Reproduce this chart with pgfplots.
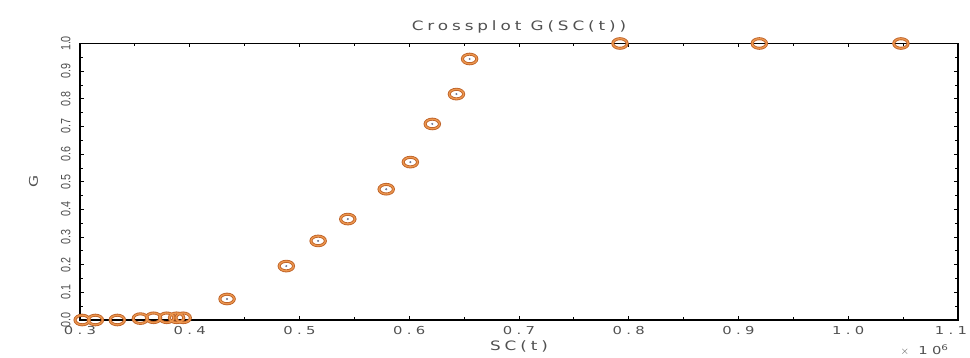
\documentclass[border=0pt]{standalone}
\usepackage{pgfplots}
\pgfplotsset{compat=1.18}
\usepackage{fontspec}
\setmainfont{DejaVu Sans}
\newfontfamily\hfont[FakeStretch=1.3, LetterSpace=30]{DejaVu Sans}
\newfontfamily\tfont[FakeStretch=1.35, LetterSpace=40]{DejaVu Sans}
\newfontfamily\nfont[FakeStretch=0.8]{Liberation Sans}
\definecolor{ringd}{RGB}{190,98,40}
\definecolor{ringl}{RGB}{236,150,78}
\definecolor{dotc}{RGB}{110,120,150}
\definecolor{txtc}{RGB}{80,80,80}
\begin{document}
\begin{tikzpicture}
\path[use as bounding box] (0bp,0bp) rectangle (970bp,358bp);
\begin{axis}[
  at={(80bp,38bp)}, anchor=south west,
  width=878bp, height=276.5bp, scale only axis,
  xmin=0.3, xmax=1.1, ymin=0, ymax=1,
  clip=false, axis on top,
  axis line style={line width=1.3bp},
  xtick={0.3,0.4,...,1.1}, minor xtick={0.35,0.45,...,1.05},
  xticklabels={0.3,0.4,0.5,0.6,0.7,0.8,0.9,1.0,\hspace*{-14bp}1.1},
  ytick={0,0.1,...,1.0}, minor ytick={0.05,0.15,...,0.95},
  tick align=inside,
  major tick length=4bp, minor tick length=3bp,
  tick style={line width=0.8bp, black},
  xticklabel style={font=\tfont\fontsize{11}{11}\selectfont, text=txtc, yshift=-2.5bp},
  yticklabel style={rotate=90, anchor=south, font=\nfont\fontsize{13.5}{13.5}\selectfont, text=txtc},
  yticklabel shift=6bp,
  /pgf/number format/.cd, fixed, fixed zerofill, precision=1, assume math mode=true,
  /pgfplots/.cd,
  title={\hfont Crossplot G(SC(t))},
  title style={font=\fontsize{13}{13}\selectfont, text=txtc, yshift=1bp},
  xlabel={\hfont SC(t)},
  xlabel style={font=\fontsize{13}{13}\selectfont, text=txtc, yshift=0bp},
  ylabel={\hfont G},
  ylabel style={font=\fontsize{12}{12}\selectfont, text=txtc, yshift=16bp},
]
\addplot[only marks, mark=o, mark size=4.8bp, mark options={xscale=1.5, line width=3bp, draw=ringd, fill=white}] coordinates {
(0.302,0.0) (0.314,0.0) (0.334,0.0) (0.355,0.005) (0.367,0.008) (0.379,0.008) (0.388,0.008) (0.394,0.008)
(0.434,0.076) (0.488,0.195) (0.517,0.286) (0.544,0.365) (0.579,0.473)
(0.601,0.571) (0.621,0.709) (0.643,0.817) (0.655,0.944)
(0.792,1.0) (0.919,1.0) (1.048,1.0)
};
\addplot[only marks, mark=o, mark size=4.8bp, mark options={xscale=1.5, line width=1.3bp, draw=ringl}] coordinates {
(0.302,0.0) (0.314,0.0) (0.334,0.0) (0.355,0.005) (0.367,0.008) (0.379,0.008) (0.388,0.008) (0.394,0.008)
(0.434,0.076) (0.488,0.195) (0.517,0.286) (0.544,0.365) (0.579,0.473)
(0.601,0.571) (0.621,0.709) (0.643,0.817) (0.655,0.944)
(0.792,1.0) (0.919,1.0) (1.048,1.0)
};
\addplot[only marks, mark=*, mark size=0.8bp, mark options={draw=dotc, fill=dotc}] coordinates {
(0.434,0.076) (0.488,0.195) (0.517,0.286) (0.544,0.365) (0.579,0.473)
(0.601,0.571) (0.621,0.709) (0.643,0.817) (0.655,0.944)
};
\node[font=\tfont\fontsize{11}{11}\selectfont, text=txtc, anchor=center] at (rel axis cs:0.962,-0.108) {$\times$ 10\textsuperscript{6}};
\end{axis}
\end{tikzpicture}
\end{document}
